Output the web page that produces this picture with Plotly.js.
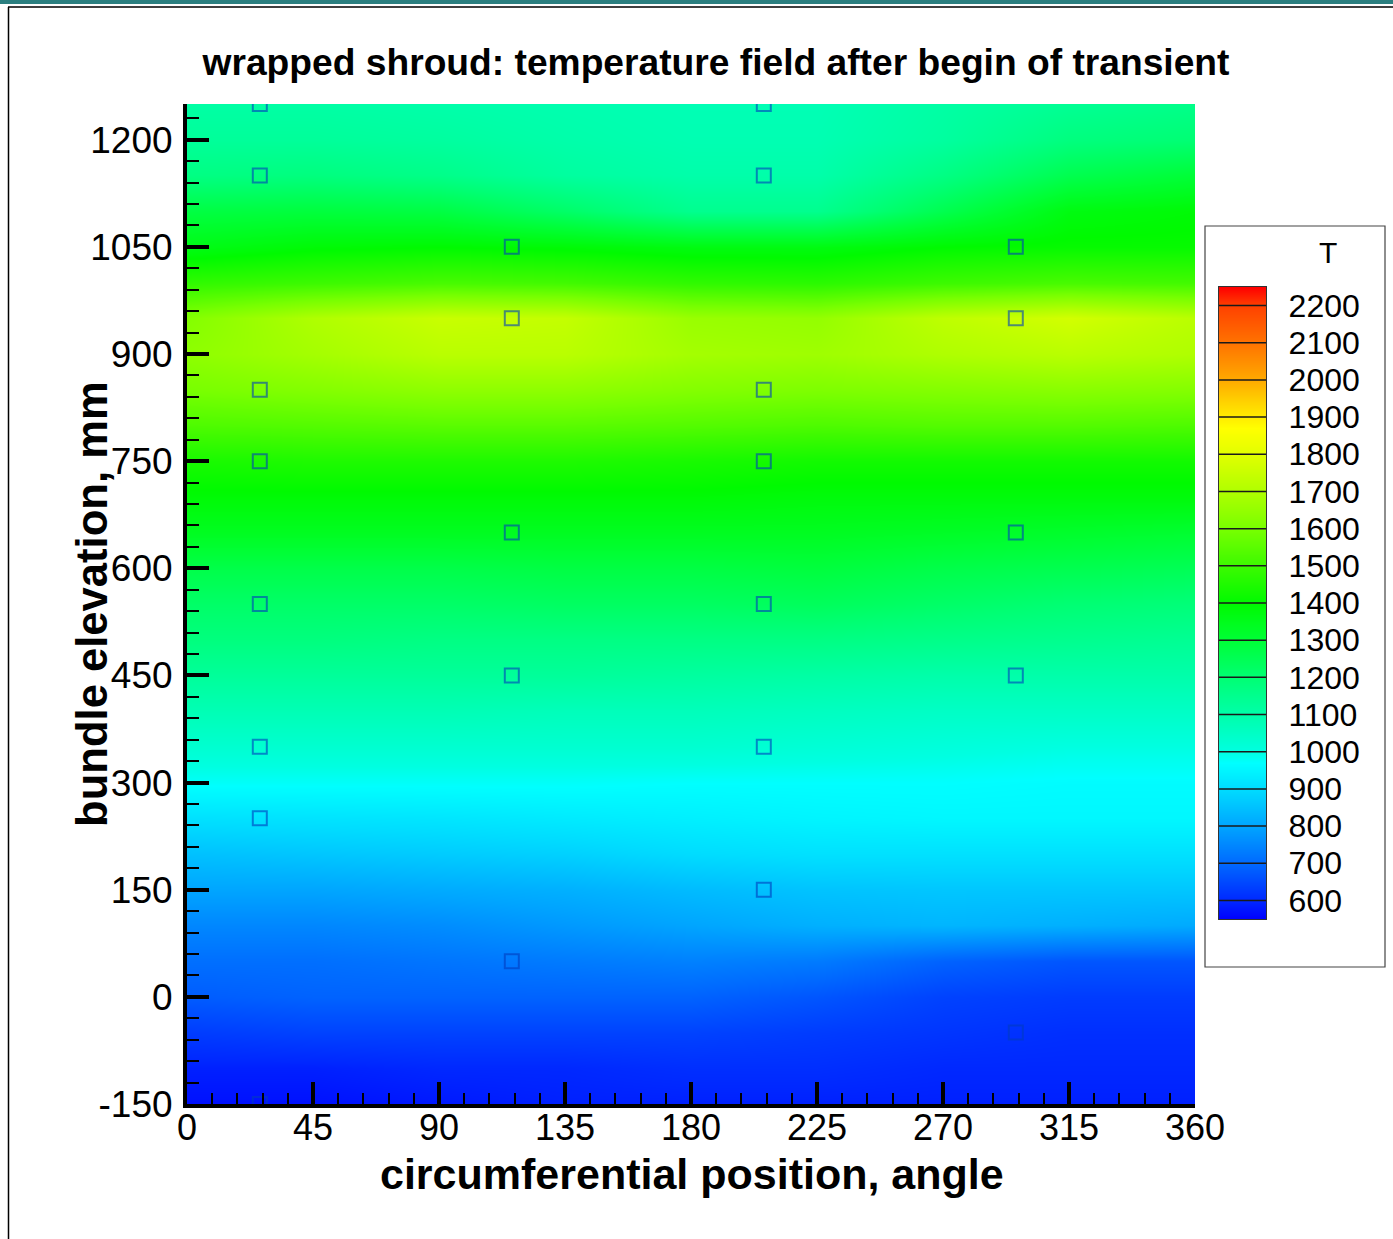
<!DOCTYPE html>
<html>
<head>
<meta charset="utf-8">
<script src="https://cdn.plot.ly/plotly-3.0.1.min.js"></script>
<style>html,body{margin:0;padding:0;background:#fff;}#chart{width:1393px;height:1239px;}</style>
</head>
<body>
<div id="chart"></div>
<script>
// ---- data ----
const angle = [0, 45, 90, 135, 180, 225, 270, 315, 360];
const elevation = [-150, -100, -50, 0, 50, 100, 150, 200, 250, 300, 350, 400, 450, 500, 550, 600, 650, 700, 750, 800, 850, 900, 950, 1000, 1050, 1100, 1150, 1200, 1250];
const temperature = [
  [570, 570, 580, 590, 590, 590, 590, 590, 590],
  [590, 590, 600, 600, 610, 610, 600, 600, 600],
  [630, 640, 640, 640, 640, 630, 620, 610, 610],
  [680, 690, 690, 690, 690, 670, 640, 630, 630],
  [710, 710, 720, 730, 740, 730, 690, 670, 670],
  [750, 750, 760, 780, 800, 820, 830, 820, 810],
  [800, 800, 810, 820, 840, 855, 860, 860, 860],
  [850, 860, 870, 880, 900, 910, 910, 910, 910],
  [910, 915, 920, 930, 940, 950, 955, 955, 955],
  [975, 975, 975, 975, 970, 970, 970, 965, 965],
  [1030, 1030, 1030, 1030, 1030, 1020, 1010, 1000, 1000],
  [1080, 1080, 1080, 1070, 1070, 1060, 1050, 1050, 1050],
  [1130, 1130, 1130, 1130, 1120, 1110, 1100, 1100, 1100],
  [1180, 1180, 1170, 1170, 1170, 1170, 1160, 1150, 1140],
  [1220, 1220, 1220, 1230, 1230, 1240, 1220, 1200, 1190],
  [1270, 1270, 1270, 1280, 1280, 1290, 1270, 1260, 1250],
  [1340, 1340, 1340, 1340, 1340, 1340, 1330, 1320, 1310],
  [1390, 1390, 1390, 1390, 1390, 1380, 1380, 1380, 1380],
  [1440, 1450, 1450, 1450, 1440, 1430, 1430, 1430, 1430],
  [1530, 1540, 1550, 1550, 1540, 1530, 1540, 1540, 1530],
  [1600, 1620, 1640, 1640, 1620, 1610, 1620, 1630, 1620],
  [1640, 1680, 1720, 1720, 1680, 1670, 1700, 1720, 1700],
  [1620, 1700, 1750, 1740, 1660, 1650, 1730, 1770, 1720],
  [1480, 1500, 1520, 1510, 1480, 1470, 1500, 1520, 1510],
  [1360, 1390, 1400, 1390, 1370, 1370, 1400, 1410, 1410],
  [1280, 1290, 1280, 1220, 1150, 1150, 1260, 1370, 1390],
  [1170, 1180, 1160, 1120, 1100, 1100, 1170, 1260, 1300],
  [1130, 1130, 1120, 1100, 1085, 1085, 1120, 1180, 1200],
  [1110, 1110, 1100, 1090, 1080, 1080, 1110, 1140, 1160]
];
// thermocouple positions
const tcAngle = [26, 26, 26, 26, 26, 26, 26, 26,
                 116, 116, 116, 116, 116,
                 206, 206, 206, 206, 206, 206, 206,
                 296, 296, 296, 296, 296];
const tcElevation = [1250, 1150, 850, 750, 550, 350, 250, -150,
                     1050, 950, 650, 450, 50,
                     1250, 1150, 850, 750, 550, 350, 150,
                     1050, 950, 650, 450, -50];
// legend levels
const levels = [600, 700, 800, 900, 1000, 1100, 1200, 1300, 1400, 1500, 1600, 1700, 1800, 1900, 2000, 2100, 2200];
const tMin = 550, tMax = 2250;
const xTicks = [0, 45, 90, 135, 180, 225, 270, 315, 360];
const yTicks = [-150, 0, 150, 300, 450, 600, 750, 900, 1050, 1200];

// colour map (Tecplot-like rainbow)
const cmapStops = [
  [550, 'rgb(0,0,255)'], [600, 'rgb(0,40,255)'], [700, 'rgb(0,105,255)'],
  [800, 'rgb(0,165,255)'], [900, 'rgb(0,220,255)'], [970, 'rgb(0,255,255)'],
  [1000, 'rgb(0,255,225)'], [1100, 'rgb(0,255,170)'], [1200, 'rgb(0,255,115)'],
  [1300, 'rgb(0,255,55)'], [1400, 'rgb(0,250,0)'], [1500, 'rgb(60,250,0)'],
  [1600, 'rgb(120,255,0)'], [1700, 'rgb(175,255,0)'], [1800, 'rgb(225,255,0)'],
  [1870, 'rgb(255,255,0)'], [1950, 'rgb(255,205,0)'], [2000, 'rgb(255,170,0)'],
  [2100, 'rgb(255,115,0)'], [2200, 'rgb(255,65,0)'], [2250, 'rgb(255,0,0)']
];
const colorscale = cmapStops.map(s => [(s[0] - tMin) / (tMax - tMin), s[1]]);

// ---- geometry helpers (figure pixels -> paper fractions, margins are 0) ----
const W = 1393, H = 1239;
const px = v => v / W;
const py = v => 1 - v / H;
const FONT = 'Liberation Sans, Arial, sans-serif';

const field = {
  type: 'heatmap', x: angle, y: elevation, z: temperature,
  colorscale: colorscale, zmin: tMin, zmax: tMax, zsmooth: 'best',
  showscale: false, xaxis: 'x', yaxis: 'y', hoverinfo: 'skip'
};
const probes = {
  type: 'scatter', mode: 'markers', x: tcAngle, y: tcElevation,
  marker: {symbol: 'square-open', size: 14, color: 'rgba(0,60,190,0.6)', line: {width: 2}},
  xaxis: 'x', yaxis: 'y', hoverinfo: 'skip', cliponaxis: true
};
// legend bar: gradient between tMin and tMax
const legendBar = {
  type: 'heatmap', x: [0, 1], y: [tMin, tMax], z: [[tMin, tMin], [tMax, tMax]],
  colorscale: colorscale, zmin: tMin, zmax: tMax, zsmooth: 'best',
  showscale: false, xaxis: 'x2', yaxis: 'y2', hoverinfo: 'skip'
};
const lx = [], ly = [];
levels.forEach(l => { lx.push(0, 1, null); ly.push(l, l, null); });
const legendLines = {
  type: 'scatter', mode: 'lines', x: lx, y: ly,
  line: {color: '#1a1a1a', width: 1.5}, xaxis: 'x2', yaxis: 'y2',
  hoverinfo: 'skip', cliponaxis: false
};

const tickFont = {family: FONT, size: 36, color: '#000'};
const layout = {
  width: W, height: H,
  margin: {l: 0, r: 0, t: 0, b: 0, pad: 0},
  paper_bgcolor: '#fff', plot_bgcolor: '#fff',
  showlegend: false,
  title: {
    text: '<b>wrapped shroud: temperature field after begin of transient</b>',
    font: {family: FONT, size: 37.2, color: '#000'},
    xref: 'paper', yref: 'paper', x: px(716), y: py(62), xanchor: 'center', yanchor: 'middle'
  },
  xaxis: {
    domain: [px(187), px(1195)], range: [0, 360], anchor: 'y',
    tickmode: 'array', tickvals: xTicks, ticktext: xTicks.map(String),
    ticks: 'inside', ticklen: 22, tickwidth: 4, tickcolor: '#000',
    minor: {dtick: 9, tick0: 0, ticks: 'inside', ticklen: 11, tickwidth: 2, tickcolor: '#000', showgrid: false},
    showline: true, linewidth: 4, linecolor: '#000', mirror: false,
    showgrid: false, zeroline: false, automargin: false,
    tickfont: tickFont, ticklabelstandoff: -11
  },
  yaxis: {
    domain: [py(1104), py(104)], range: [-150, 1250], anchor: 'x',
    tickmode: 'array', tickvals: yTicks, ticktext: yTicks.map(String),
    ticks: 'inside', ticklen: 22, tickwidth: 4, tickcolor: '#000',
    minor: {dtick: 30, tick0: 0, ticks: 'inside', ticklen: 12, tickwidth: 2, tickcolor: '#000', showgrid: false},
    showline: true, linewidth: 4, linecolor: '#000', mirror: false,
    showgrid: false, zeroline: false, automargin: false,
    tickfont: {family: FONT, size: 37, color: '#000'}, ticklabelstandoff: 3
  },
  xaxis2: {
    domain: [px(1219), px(1266)], range: [0, 1], anchor: 'y2',
    showticklabels: false, ticks: '', showgrid: false, zeroline: false,
    showline: true, mirror: true, linewidth: 1.2, linecolor: '#333', fixedrange: true
  },
  yaxis2: {
    domain: [py(919), py(287)], range: [tMin, tMax], anchor: 'x2', side: 'right',
    tickmode: 'array', tickvals: levels, ticktext: levels.map(String),
    ticks: '', showgrid: false, zeroline: false,
    showline: true, mirror: true, linewidth: 1.2, linecolor: '#333',
    tickfont: {family: FONT, size: 32, color: '#000'},
    ticklabelstandoff: 15, automargin: false, fixedrange: true
  },
  annotations: [
    {text: 'T', xref: 'paper', yref: 'paper', x: px(1328), y: py(252), showarrow: false,
     xanchor: 'center', yanchor: 'middle', font: {family: FONT, size: 30, color: '#000'}},
    // axis titles
    {text: '<b>circumferential position, angle</b>', xref: 'paper', yref: 'paper',
     x: px(692), y: py(1174), showarrow: false, xanchor: 'center', yanchor: 'middle',
     font: {family: FONT, size: 43, color: '#000'}},
    {text: '<b>bundle elevation, mm</b>', xref: 'paper', yref: 'paper', textangle: -90,
     x: px(92), y: py(604), showarrow: false, xanchor: 'center', yanchor: 'middle',
     font: {family: FONT, size: 43.6, color: '#000'}}
  ],
  shapes: [
    // legend frame
    {type: 'rect', xref: 'paper', yref: 'paper', x0: px(1205), x1: px(1385), y0: py(967), y1: py(226),
     line: {color: '#444', width: 1.2}, fillcolor: 'rgba(0,0,0,0)'},
    // page frame
    {type: 'line', xref: 'paper', yref: 'paper', x0: 0, x1: 1, y0: py(2), y1: py(2),
     line: {color: '#2b7f80', width: 4}},
    {type: 'line', xref: 'paper', yref: 'paper', x0: px(8), x1: 1, y0: py(7), y1: py(7),
     line: {color: '#000', width: 1.5}},
    {type: 'line', xref: 'paper', yref: 'paper', x0: px(8.5), x1: px(8.5), y0: py(7), y1: 0,
     line: {color: '#000', width: 1.5}}
  ]
};

Plotly.newPlot('chart', [field, probes, legendBar, legendLines], layout, {displayModeBar: false, staticPlot: true});
</script>
</body>
</html>
